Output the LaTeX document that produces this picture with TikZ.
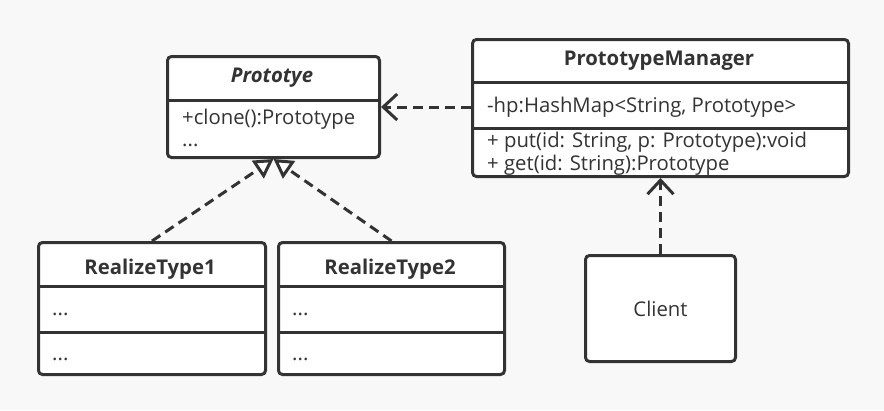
\documentclass[tikz,border=0pt]{standalone}
\usepackage{fontspec}
\setmainfont{Open Sans}
\usepackage{xcolor}
\usepackage{tikz}
\usetikzlibrary{arrows.meta}
\definecolor{umlline}{HTML}{333333}
\definecolor{umlbg}{HTML}{F8F8F8}

\begin{document}
\begin{tikzpicture}[x=1pt,y=-1pt,
    classbox/.style={draw=umlline,line width=3pt,fill=white,rounded corners=4pt,inner sep=0pt,anchor=north west},
    divider/.style={draw=umlline,line width=3pt},
    member/.style={anchor=west,inner sep=0pt,text=umlline,font=\fontsize{20.3}{23}\selectfont},
    classname/.style={inner sep=0pt,text=umlline,font=\fontsize{20.3}{23}\selectfont\bfseries},
    depend/.style={draw=umlline,line width=3pt,dash pattern=on 10pt off 6pt},
    usesarrow/.style={depend,-{Straight Barb[length=14pt,width=26pt,line width=3pt]}},
    realizearrow/.style={depend,-{Triangle[open,length=19pt,width=21pt,fill=white,line width=3pt]}}]

        \fill[umlbg] (0,0) rectangle (884,410);
        \useasboundingbox (0,0) rectangle (884,410);

        % Prototye
        \node[classbox,minimum width=212pt,minimum height=101pt] (proto) at (166,55) {};
        \draw[divider] (proto.west |- 0,100) -- (proto.east |- 0,100);
        \node[classname] (protoname) at (272,78) {\textit{Prototye}};
        \node[member] (protoclone) at (182,119) {+clone():Prototype};
        \node[member] (protomore) at (182,145) {...};

        % PrototypeManager
        \node[classbox,minimum width=376pt,minimum height=137pt] (mgr) at (471,38) {};
        \draw[divider] (mgr.west |- 0,82) -- (mgr.east |- 0,82);
        \draw[divider] (mgr.west |- 0,128) -- (mgr.east |- 0,128);
        \node[classname] (mgrname) at (659,61) {PrototypeManager};
        \node[member] (mgrhp) at (487,107) {-hp:HashMap<String, Prototype>};
        \node[member] (mgrput) at (487,142) {+ put(id: String, p: Prototype):void};
        \node[member] (mgrget) at (487,165) {+ get(id: String):Prototype};

        % RealizeType1
        \node[classbox,minimum width=227pt,minimum height=132pt] (real1) at (37,241) {};
        \draw[divider] (real1.west |- 0,286) -- (real1.east |- 0,286);
        \draw[divider] (real1.west |- 0,332) -- (real1.east |- 0,332);
        \node[classname] (real1name) at (150,269) {RealizeType1};
        \node[member] (real1attr) at (52,314) {...};
        \node[member] (real1op) at (52,359) {...};

        % RealizeType2
        \node[classbox,minimum width=226pt,minimum height=132pt] (real2) at (277,241) {};
        \draw[divider] (real2.west |- 0,286) -- (real2.east |- 0,286);
        \draw[divider] (real2.west |- 0,332) -- (real2.east |- 0,332);
        \node[classname] (real2name) at (390,269) {RealizeType2};
        \node[member] (real2attr) at (292,314) {...};
        \node[member] (real2op) at (292,359) {...};

        % Client
        \node[classbox,minimum width=150pt,minimum height=106pt] (client) at (584,254) {};
        \node[inner sep=0pt,text=umlline,font=\fontsize{20.3}{23}\selectfont] (clientname) at (client.center) {Client};

        % connectors
        \draw[usesarrow] (mgr.west |- proto.east) -- (proto.east);
        \draw[realizearrow] (real1.north) -- (proto.south);
        \draw[realizearrow] (real2.north) -- (proto.south);
        \draw[usesarrow] (client.north) -- (client.north |- mgr.south);
      \end{tikzpicture}
\end{document}
